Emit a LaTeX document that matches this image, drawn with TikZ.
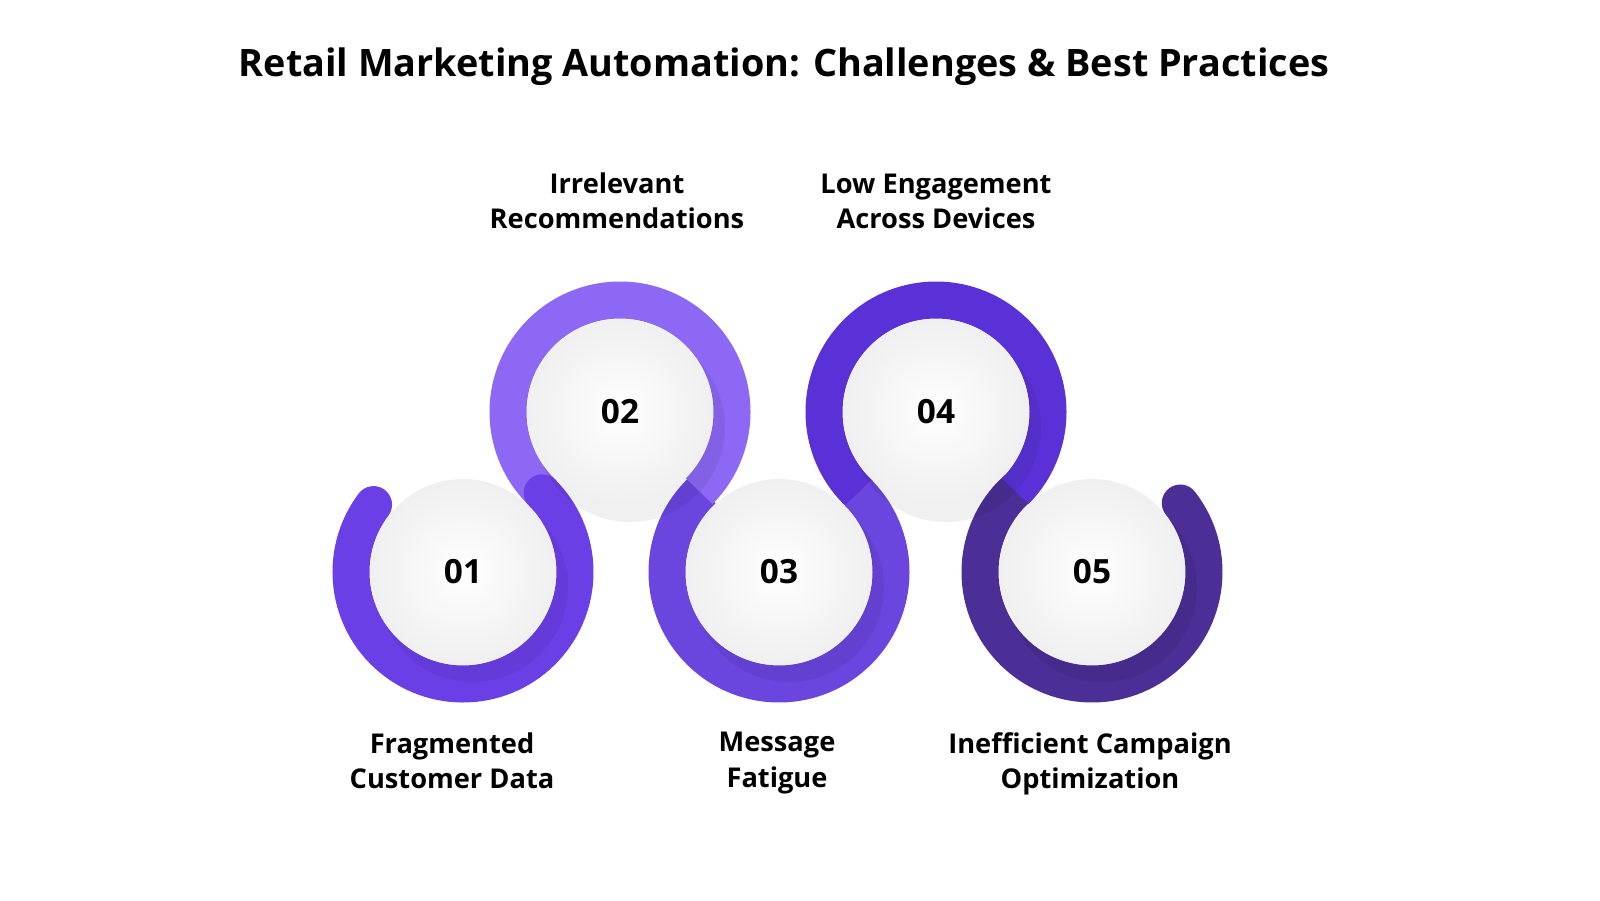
\documentclass[tikz,border=0pt]{standalone}
\usepackage{fontspec}
\setmainfont{Open Sans}
\usepackage{tikz}
\usetikzlibrary{calc}
\usetikzlibrary{positioning}
\definecolor{ring-a}{HTML}{6B3FE6}
\definecolor{ring-b}{HTML}{8C68F4}
\definecolor{ring-c}{HTML}{6A45DE}
\definecolor{ring-d}{HTML}{5A31D6}
\definecolor{ring-e}{HTML}{4B2E96}
\tikzset{every text node part/.style={align=center}}
\tikzstyle{ring} = [line width=0.74cm]
\tikzstyle{num} = [inner sep=0pt, font={\bfseries\fontsize{19}{22}\selectfont}]
\tikzstyle{caption} = [inner sep=0pt, font={\bfseries\fontsize{15.5}{20}\selectfont}]
\begin{document}
\begin{tikzpicture}[
        ball/.style={circle, minimum size=3.72cm, inner sep=0pt, shading=radial, inner color=white, outer color=gray!12},
        shade-blob/.style={circle, minimum size=3.8cm, fill=black, opacity=0.06}
      ]
      \node[caption, font={\bfseries\fontsize{21.5}{26}\selectfont}] (title) at (15.68,16.66) {Retail Marketing Automation: Challenges \& Best Practices};
      \coordinate (c1) at (9.26,6.56);
      \coordinate (c2) at (12.40,9.76);
      \coordinate (c3) at (15.58,6.56);
      \coordinate (c4) at (18.72,9.76);
      \coordinate (c5) at (21.84,6.56);
      % rings
      \draw[ring, ring-e, line cap=round] ($(c5)+(133:2.24)$) arc[start angle=133, end angle=398, radius=2.24];
      \draw[ring, ring-d]                 ($(c4)+(227:2.24)$) arc[start angle=227, end angle=-45, radius=2.24];
      \draw[ring, ring-c]                 ($(c3)+(133:2.24)$) arc[start angle=133, end angle=405, radius=2.24];
      \draw[ring, ring-b]                 ($(c2)+(227:2.24)$) arc[start angle=227, end angle=-45, radius=2.24];
      \draw[ring, ring-a, line cap=round] ($(c1)+(143:2.24)$) arc[start angle=143, end angle=405, radius=2.24];
      % balls
      \foreach \i in {1,...,5} {
        \node[shade-blob] at ($(c\i)+(0.2,-0.3)$) {};
        \node[ball] (b\i) at (c\i) {};
      }
      \node[num]               (n1) at (c1)                 {01};
      \node[num]               (n2) at (c2)                 {02};
      \node[num]               (n3) at (c3)                 {03};
      \node[num]               (n4) at (c4)                 {04};
      \node[num]               (n5) at (c5)                 {05};
      \node[caption]           (t1)[below=2.95cm of n1, xshift=-0.22cm] {Fragmented\\Customer Data};
      \node[caption]           (t2)[above=3.4cm of n2, xshift=-0.06cm]  {Irrelevant\\Recommendations};
      \node[caption]           (t3)[below=2.95cm of n3, xshift=-0.04cm] {Message\\Fatigue};
      \node[caption]           (t4)[above=3.4cm of n4]                  {Low Engagement\\Across Devices};
      \node[caption]           (t5)[below=2.95cm of n5, xshift=-0.04cm] {Inefficient Campaign\\Optimization};
      \pgfresetboundingbox
      \useasboundingbox (0,0) rectangle (32,18);
    \end{tikzpicture}
\end{document}
